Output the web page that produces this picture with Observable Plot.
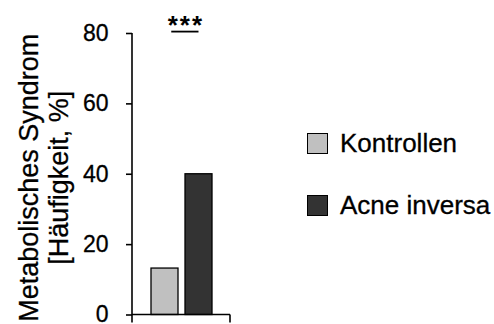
<!DOCTYPE html>
<html>
<head>
<meta charset="utf-8">
<script src="https://cdn.jsdelivr.net/npm/d3@7"></script>
<script src="https://cdn.jsdelivr.net/npm/@observablehq/plot@0.6"></script>
<style>
html, body { margin: 0; padding: 0; background: #fff; }
#wrap { position: relative; width: 494px; height: 324px; overflow: hidden; font-family: "Liberation Sans", Arial, sans-serif; }
#legend { position: absolute; left: 307px; top: 133px; }
.item { display: flex; align-items: center; height: 21px; margin-bottom: 41px; }
.sw { width: 21px; height: 21px; box-sizing: border-box; border: 1.6px solid #000; margin-right: 12px; }
.lb { font-size: 26px; line-height: 21px; color: #000; white-space: nowrap; -webkit-text-stroke: 0.3px #000; }
#wrap svg [aria-label^="y-axis"] text { font-size: 23px; fill: #000; stroke: #000; stroke-width: 0.3px; }
#wrap svg [aria-label^="y-axis"] path, #wrap svg [aria-label^="y-axis"] line { stroke: #000; stroke-width: 1.6px; }
</style>
</head>
<body>
<div id="wrap"></div>
<script>
// ---- data ----
const groups = ["Kontrollen", "Acne inversa"];
const values = [13.2, 40];
const colors = ["#c0c0c0", "#333333"];
const yTicks = [0, 20, 40, 60, 80];
const yLabelLines = ["Metabolisches Syndrom", "[Häufigkeit, %]"];
const sigFrom = "Kontrollen";
const sigTo = "Acne inversa";
const sigLabel = "***";
const sigLineValue = 80.4;
const sigTextValue = 79.8;

const data = groups.map((g, i) => ({group: g, value: values[i]}));

function axesLines(index, scales, vals, dims) {
  const {width, height, marginLeft, marginRight, marginBottom} = dims;
  const y0 = height - marginBottom, x0 = marginLeft, x1 = width - marginRight;
  const g = d3.create("svg:g").attr("stroke", "#000").attr("stroke-width", 1.6).attr("fill", "none");
  g.append("line").attr("x1", x0).attr("x2", x0).attr("y1", scales.y(yTicks[yTicks.length - 1])).attr("y2", y0 + 8);
  g.append("line").attr("x1", x0).attr("x2", x1).attr("y1", y0).attr("y2", y0);
  g.append("line").attr("x1", x1).attr("x2", x1).attr("y1", y0).attr("y2", y0 + 8);
  return g.node();
}

function significance(index, scales, vals, dims) {
  const sx = scales.x;
  const bw = typeof sx.bandwidth === "function" ? sx.bandwidth() : (sx.bandwidth || 0);
  const xa = sx(sigFrom) + bw * 0.75;
  const xb = sx(sigTo) + bw * 0.5;
  const g = d3.create("svg:g");
  g.append("line").attr("x1", xa).attr("x2", xb)
    .attr("y1", scales.y(sigLineValue)).attr("y2", scales.y(sigLineValue))
    .attr("stroke", "#000").attr("stroke-width", 1.8);
  g.append("text").attr("x", (xa + xb) / 2 + 1).attr("y", scales.y(sigTextValue))
    .attr("text-anchor", "middle").attr("font-size", 26).attr("font-weight", "bold").attr("fill", "#000")
    .attr("letter-spacing", "2px")
    .attr("font-family", "Liberation Sans, Arial, sans-serif")
    .text(sigLabel);
  return g.node();
}

const chart = Plot.plot({
  width: 494,
  height: 324,
  marginLeft: 132,
  marginRight: 264,
  marginTop: 33,
  marginBottom: 9.5,
  style: {fontFamily: "Liberation Sans, Arial, sans-serif", fontSize: "23px", background: "transparent", color: "#000", overflow: "visible"},
  x: {domain: groups, paddingInner: 0.206, paddingOuter: 0.544, axis: null},
  y: {domain: [0, 80], ticks: yTicks, tickSize: 6, tickPadding: 18, label: null},
  color: {domain: groups, range: colors},
  marks: [
    Plot.barY(data, {x: "group", y: "value", fill: "group", stroke: "#000", strokeWidth: 1.3}),
    axesLines,
    significance,
    Plot.text([yLabelLines[0]], {text: d => d, frameAnchor: "left", rotate: -90, lineAnchor: "bottom", textAnchor: "middle", fontSize: 27, dx: -95, dy: 3.5, fill: "#000", stroke: "#000", strokeWidth: 0.3}),
    Plot.text([yLabelLines[1]], {text: d => d, frameAnchor: "left", rotate: -90, lineAnchor: "bottom", textAnchor: "middle", fontSize: 27, dx: -65, dy: 3.5, fill: "#000", stroke: "#000", strokeWidth: 0.3})
  ]
});

const wrap = document.getElementById("wrap");
wrap.appendChild(chart);

const legend = document.createElement("div");
legend.id = "legend";
groups.forEach((g, i) => {
  const item = document.createElement("div");
  item.className = "item";
  const sw = document.createElement("div");
  sw.className = "sw";
  sw.style.background = colors[i];
  const lb = document.createElement("span");
  lb.className = "lb";
  lb.textContent = g;
  item.appendChild(sw);
  item.appendChild(lb);
  legend.appendChild(item);
});
wrap.appendChild(legend);
</script>
</body>
</html>
